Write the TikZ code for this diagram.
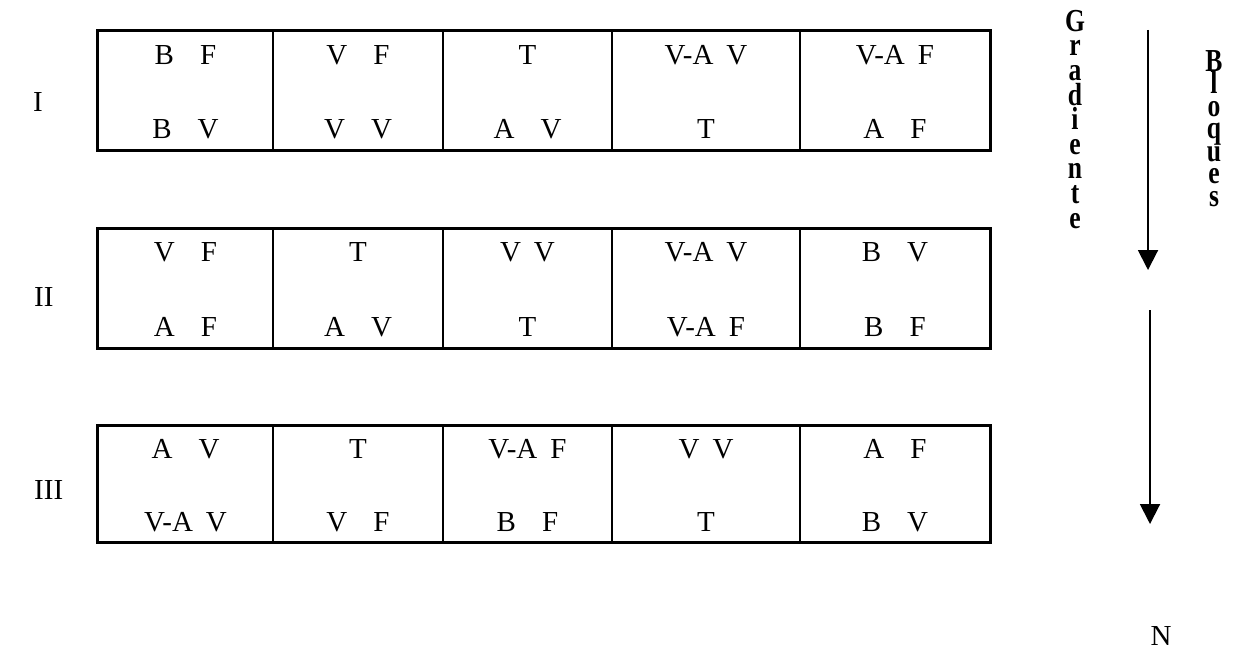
\documentclass[tikz,border=0pt]{standalone}
\usepackage{fontspec}
\setmainfont{Liberation Serif}
\newfontfamily\stackfont[FakeStretch=0.8]{Liberation Serif}
\usetikzlibrary{arrows.meta}
\newcommand{\pg}{\hspace{0.9em}}
\newcommand{\vg}{\hspace{0.45em}}
\begin{document}
\begin{tikzpicture}[x=1pt,y=-1pt,
  cell/.style={draw, line width=1.8pt, inner sep=0pt, minimum height=#1},
  txt/.style={anchor=base, inner sep=0pt, font=\fontsize{29}{32}\selectfont},
  frame/.style={draw, line width=3pt},
  lbl/.style={anchor=base west, inner sep=0pt, font=\fontsize{29}{32}\selectfont},
  stackw/.style={anchor=north, inner sep=0pt, align=center},
  arr/.style={line width=2pt, -{Triangle[width=20pt,length=20pt]}}
]
\useasboundingbox (0,0) rectangle (1233,650);

% row I
\foreach \r/\t/\b in {1/31/150, 2/229/348, 3/426/542}{
  \foreach \c/\xa/\xb in {1/98/273, 2/273/443, 3/443/612, 4/612/800, 5/800/990}{
    \node[cell=\b-\t, minimum width=\xb-\xa] (r\r c\c) at ({(\xa+\xb)/2},{(\t+\b)/2}) {};
  }
  \draw[frame] (r\r c1.north west) rectangle (r\r c5.south east);
}

% texts row I
\path (r1c1.north) ++(0,34) node[txt] (r1c1a) {B\pg F};
\path (r1c1.south) ++(0,-12) node[txt] (r1c1b) {B\pg V};
\path (r1c2.north) ++(0,34) node[txt] (r1c2a) {V\pg F};
\path (r1c2.south) ++(0,-12) node[txt] (r1c2b) {V\pg V};
\path (r1c3.north) ++(0,34) node[txt] (r1c3a) {T};
\path (r1c3.south) ++(0,-12) node[txt] (r1c3b) {A\pg V};
\path (r1c4.north) ++(0,34) node[txt] (r1c4a) {V-A\vg V};
\path (r1c4.south) ++(0,-12) node[txt] (r1c4b) {T};
\path (r1c5.north) ++(0,34) node[txt] (r1c5a) {V-A\vg F};
\path (r1c5.south) ++(0,-12) node[txt] (r1c5b) {A\pg F};

% texts row II
\path (r2c1.north) ++(0,33) node[txt] (r2c1a) {V\pg F};
\path (r2c1.south) ++(0,-12) node[txt] (r2c1b) {A\pg F};
\path (r2c2.north) ++(0,33) node[txt] (r2c2a) {T};
\path (r2c2.south) ++(0,-12) node[txt] (r2c2b) {A\pg V};
\path (r2c3.north) ++(0,33) node[txt] (r2c3a) {V\vg V};
\path (r2c3.south) ++(0,-12) node[txt] (r2c3b) {T};
\path (r2c4.north) ++(0,33) node[txt] (r2c4a) {V-A\vg V};
\path (r2c4.south) ++(0,-12) node[txt] (r2c4b) {V-A\vg F};
\path (r2c5.north) ++(0,33) node[txt] (r2c5a) {B\pg V};
\path (r2c5.south) ++(0,-12) node[txt] (r2c5b) {B\pg F};

% texts row III
\path (r3c1.north) ++(0,33) node[txt] (r3c1a) {A\pg V};
\path (r3c1.south) ++(0,-11) node[txt] (r3c1b) {V-A\vg V};
\path (r3c2.north) ++(0,33) node[txt] (r3c2a) {T};
\path (r3c2.south) ++(0,-11) node[txt] (r3c2b) {V\pg F};
\path (r3c3.north) ++(0,33) node[txt] (r3c3a) {V-A\vg F};
\path (r3c3.south) ++(0,-11) node[txt] (r3c3b) {B\pg F};
\path (r3c4.north) ++(0,33) node[txt] (r3c4a) {V\vg V};
\path (r3c4.south) ++(0,-11) node[txt] (r3c4b) {T};
\path (r3c5.north) ++(0,33) node[txt] (r3c5a) {A\pg F};
\path (r3c5.south) ++(0,-11) node[txt] (r3c5b) {B\pg V};

% row labels
\node[lbl] (lI) at (33,112) {I};
\node[lbl] (lII) at (34,306) {II};
\node[lbl] (lIII) at (34,499) {III};

% vertical words
\node[stackw, font=\stackfont\bfseries\fontsize{32}{24.6}\selectfont] (grad) at (1075,10)
  {G\\r\\a\\d\\i\\e\\n\\t\\e};
\node[stackw, font=\stackfont\bfseries\fontsize{32}{22.5}\selectfont] (bloq) at (1214,50)
  {B\\l\\o\\q\\u\\e\\s};

% arrows
\coordinate (a1s) at (1148,30);
\coordinate (a1e) at (1148,270);
\coordinate (a2s) at (1150,310);
\coordinate (a2e) at (1150,524);
\draw[arr] (a1s) -- (a1e);
\draw[arr] (a2s) -- (a2e);

\node[txt] (nlab) at (1161,645) {N};
\end{tikzpicture}
\end{document}
